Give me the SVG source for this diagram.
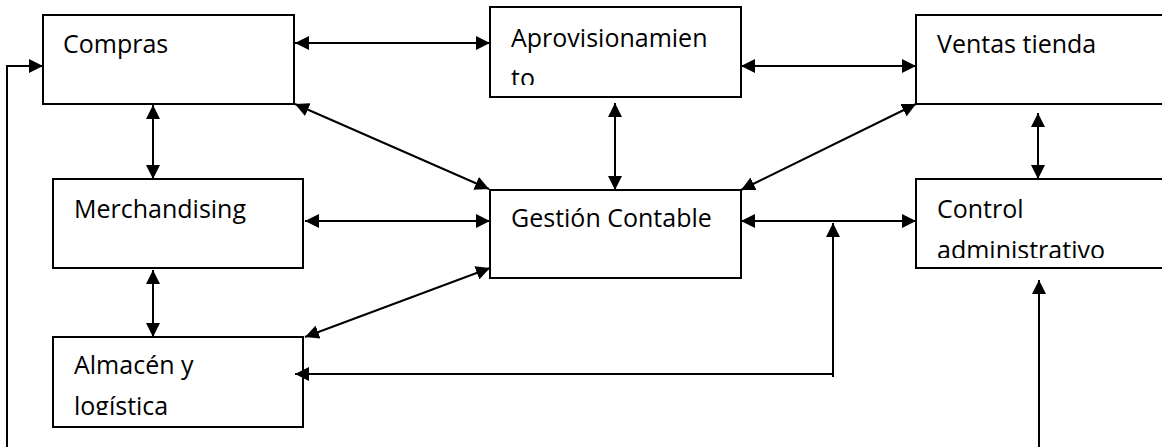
<svg xmlns="http://www.w3.org/2000/svg" width="1162" height="447" viewBox="0 0 1162 447">
<style>
.box{fill:#fff;stroke:#000;stroke-width:2}
.lbl{font-family:"Open Sans","Liberation Sans",sans-serif;font-size:25px;fill:#000}
.c{fill:none;stroke:#000;stroke-width:2}
.bi{marker-start:url(#ah);marker-end:url(#ah)}
.one{marker-end:url(#ah)}
</style>
<defs>
<marker id="ah" markerUnits="userSpaceOnUse" markerWidth="14" markerHeight="14" refX="14" refY="7" orient="auto-start-reverse" viewBox="0 0 14 14">
<path d="M0,0 L14,7 L0,14 z" fill="#000"/>
</marker>
<clipPath id="cpAprov"><rect x="490" y="7" width="251" height="78"/></clipPath>
<clipPath id="cpControl"><rect x="916" y="179" width="260" height="79"/></clipPath>
<clipPath id="cpAlm"><rect x="53" y="337" width="250" height="78"/></clipPath>
</defs>
<g id="nodes">
<g id="compras"><rect class="box" x="43" y="15" width="251" height="89"/><text class="lbl" x="63" y="53">Compras</text></g>
<g id="aprovisionamiento"><rect class="box" x="490" y="7" width="251" height="90"/><g clip-path="url(#cpAprov)"><text class="lbl" x="511" y="47">Aprovisionamien</text><text class="lbl" x="511" y="87">to</text></g></g>
<g id="ventas"><rect class="box" x="916" y="15" width="260" height="89"/><text class="lbl" x="937" y="53">Ventas tienda</text></g>
<g id="merchandising"><rect class="box" x="53" y="179" width="250" height="89"/><text class="lbl" x="74" y="218">Merchandising</text></g>
<g id="gestion"><rect class="box" x="490" y="190" width="251" height="88"/><text class="lbl" x="511" y="227">Gestión Contable</text></g>
<g id="control"><rect class="box" x="916" y="179" width="260" height="89"/><g clip-path="url(#cpControl)"><text class="lbl" x="937" y="218">Control</text><text class="lbl" x="937" y="259">administrativo</text></g></g>
<g id="almacen"><rect class="box" x="53" y="337" width="250" height="90"/><g clip-path="url(#cpAlm)"><text class="lbl" x="74" y="374">Almacén y</text><text class="lbl" x="74" y="415">logística</text></g></g>
</g>
<g id="connectors">
<path class="c one" d="M7,447 V66 H43"/>
<path class="c bi" d="M295,43 H490"/>
<path class="c bi" d="M741,66 H916"/>
<path class="c bi" d="M295,104 L489,189"/>
<path class="c bi" d="M615,103 V190"/>
<path class="c bi" d="M916,104 L741,190"/>
<path class="c bi" d="M1038,113 V179"/>
<path class="c bi" d="M153,105 V179"/>
<path class="c bi" d="M305,221 H490"/>
<path class="c bi" d="M741,221 H916"/>
<path class="c bi" d="M153,270 V337"/>
<path class="c bi" d="M490,268 L305,337"/>
<path class="c one" d="M833,377 V223"/>
<path class="c one" d="M833,374 H295"/>
<path class="c one" d="M1039,447 V280"/>
</g>
</svg>
